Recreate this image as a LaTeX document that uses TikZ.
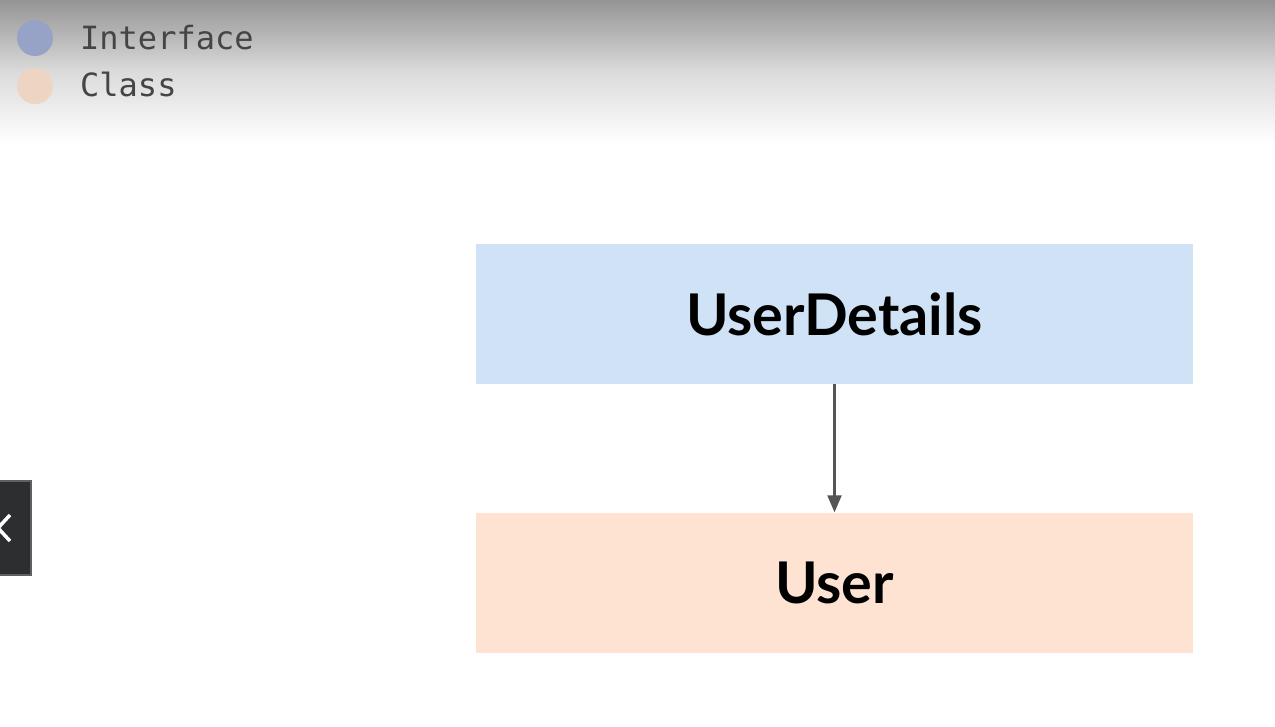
\documentclass[tikz,border=0pt]{standalone}
\usepackage{fontspec}
\setmainfont{Lato}
\newfontfamily\monofont{DejaVu Sans Mono}
\usetikzlibrary{arrows.meta}
\definecolor{ifacefill}{HTML}{D0E2F5}
\definecolor{classfill}{HTML}{FEE3D3}
\definecolor{legblue}{HTML}{97A3C6}
\definecolor{legpeach}{HTML}{EDD4C3}
\definecolor{legtext}{HTML}{454545}
\definecolor{arrowgray}{HTML}{555555}
\definecolor{btnfill}{HTML}{2C2E30}
\definecolor{btnedge}{HTML}{5C6165}
\tikzset{
  typebox/.style={minimum width=717pt, minimum height=140pt, inner sep=0pt, font=\fontsize{57.5}{60}\selectfont\bfseries, text=black},
  legdot/.style={circle, minimum size=36pt, inner sep=0pt},
  legtxt/.style={anchor=base west, font=\monofont\fontsize{32}{34}\selectfont, text=legtext, inner sep=0pt},
}
\begin{document}
\begin{tikzpicture}[x=1pt,y=-1pt]
\useasboundingbox (0,0) rectangle (1275,727);
\fill[white] (0,0) rectangle (1275,727);
\shade[top color=black!42, bottom color=white, middle color=black!14] (0,0) rectangle (1275,145);
% legend
\node[legdot, fill=legblue] (dotI) at (35,38) {};
\node[legdot, fill=legpeach] (dotC) at (35,86) {};
\node[legtxt] (txtI) at (80,50) {Interface};
\node[legtxt] (txtC) at (80,97) {Class};
% boxes
\node[typebox, fill=ifacefill] (ud) at (834.5,314) {UserDetails};
\node[typebox, fill=classfill] (user) at (834.5,582.5) {User};
\draw[arrowgray, line width=2.2pt, -{Triangle[length=17pt,width=14pt]}] (ud.south) -- (user.north);
% side button
\draw[btnedge, line width=1.5pt, fill=btnfill] (-5,481) rectangle (31,575);
\coordinate (chA) at (10,515);
\coordinate (chB) at (-2,528);
\coordinate (chC) at (10,541);
\draw[white, line width=3.5pt] (chA) -- (chB) -- (chC);
\end{tikzpicture}
\end{document}
